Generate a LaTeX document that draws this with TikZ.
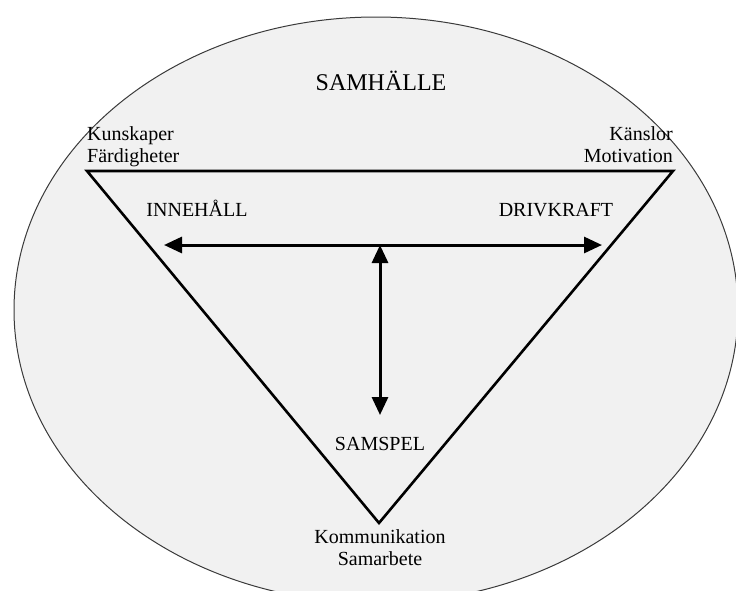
\documentclass[tikz,border=0pt]{standalone}
\usepackage{fontspec}
\setmainfont{Liberation Serif}
\usetikzlibrary{arrows.meta,positioning}
\definecolor{society}{HTML}{F1F1F1}
\definecolor{rim}{HTML}{3A3A3A}

\begin{document}
\begin{tikzpicture}[x=1pt,y=-1pt,
  lbl/.style={inner sep=0pt,font=\fontsize{20}{22}\selectfont},
  big/.style={inner sep=0pt,font=\fontsize{24}{28}\selectfont},
  edge/.style={line width=2.6pt,line join=miter},
  dbl/.style={line width=3pt,{Triangle[length=18pt,width=16pt]}-{Triangle[length=18pt,width=16pt]}}]
  \useasboundingbox (0,0) rectangle (736,590);
  \clip (0,0) rectangle (736,590);
  \draw[fill=society,draw=rim,line width=1pt] (376,310) ellipse [x radius=362,y radius=293];

  % triangle
  \coordinate (tl) at (87,171);
  \coordinate (tr) at (673,171);
  \coordinate (bot) at (379,523);
  \draw[edge] (tl) -- (tr) -- (bot) -- cycle;

  \node[big] (samhalle) at (381,81) {SAMHÄLLE};
  \node[lbl,align=left,anchor=south west] (kunskaper) at (87,167.5) {Kunskaper\\Färdigheter};
  \node[lbl,align=right,anchor=south east] (kanslor) at (673,163) {Känslor\\Motivation};
  \node[lbl,anchor=base] (innehall) at (197,216) {INNEHÅLL};
  \node[lbl,anchor=base] (drivkraft) at (556,216) {DRIVKRAFT};
  \node[lbl,anchor=base] (samspel) at (380,450) {SAMSPEL};
  \node[lbl,align=center,anchor=north] (kommunikation) at (380,529.5) {Kommunikation\\Samarbete};

  % arrows
  \coordinate (la) at (164,245);
  \coordinate (ra) at (602,245);
  \coordinate (hub) at (380,245);
  \coordinate (dn) at (380,415);
  \draw[dbl] (la) -- (ra);
  \draw[dbl] (hub) -- (dn);
\end{tikzpicture}
\end{document}
